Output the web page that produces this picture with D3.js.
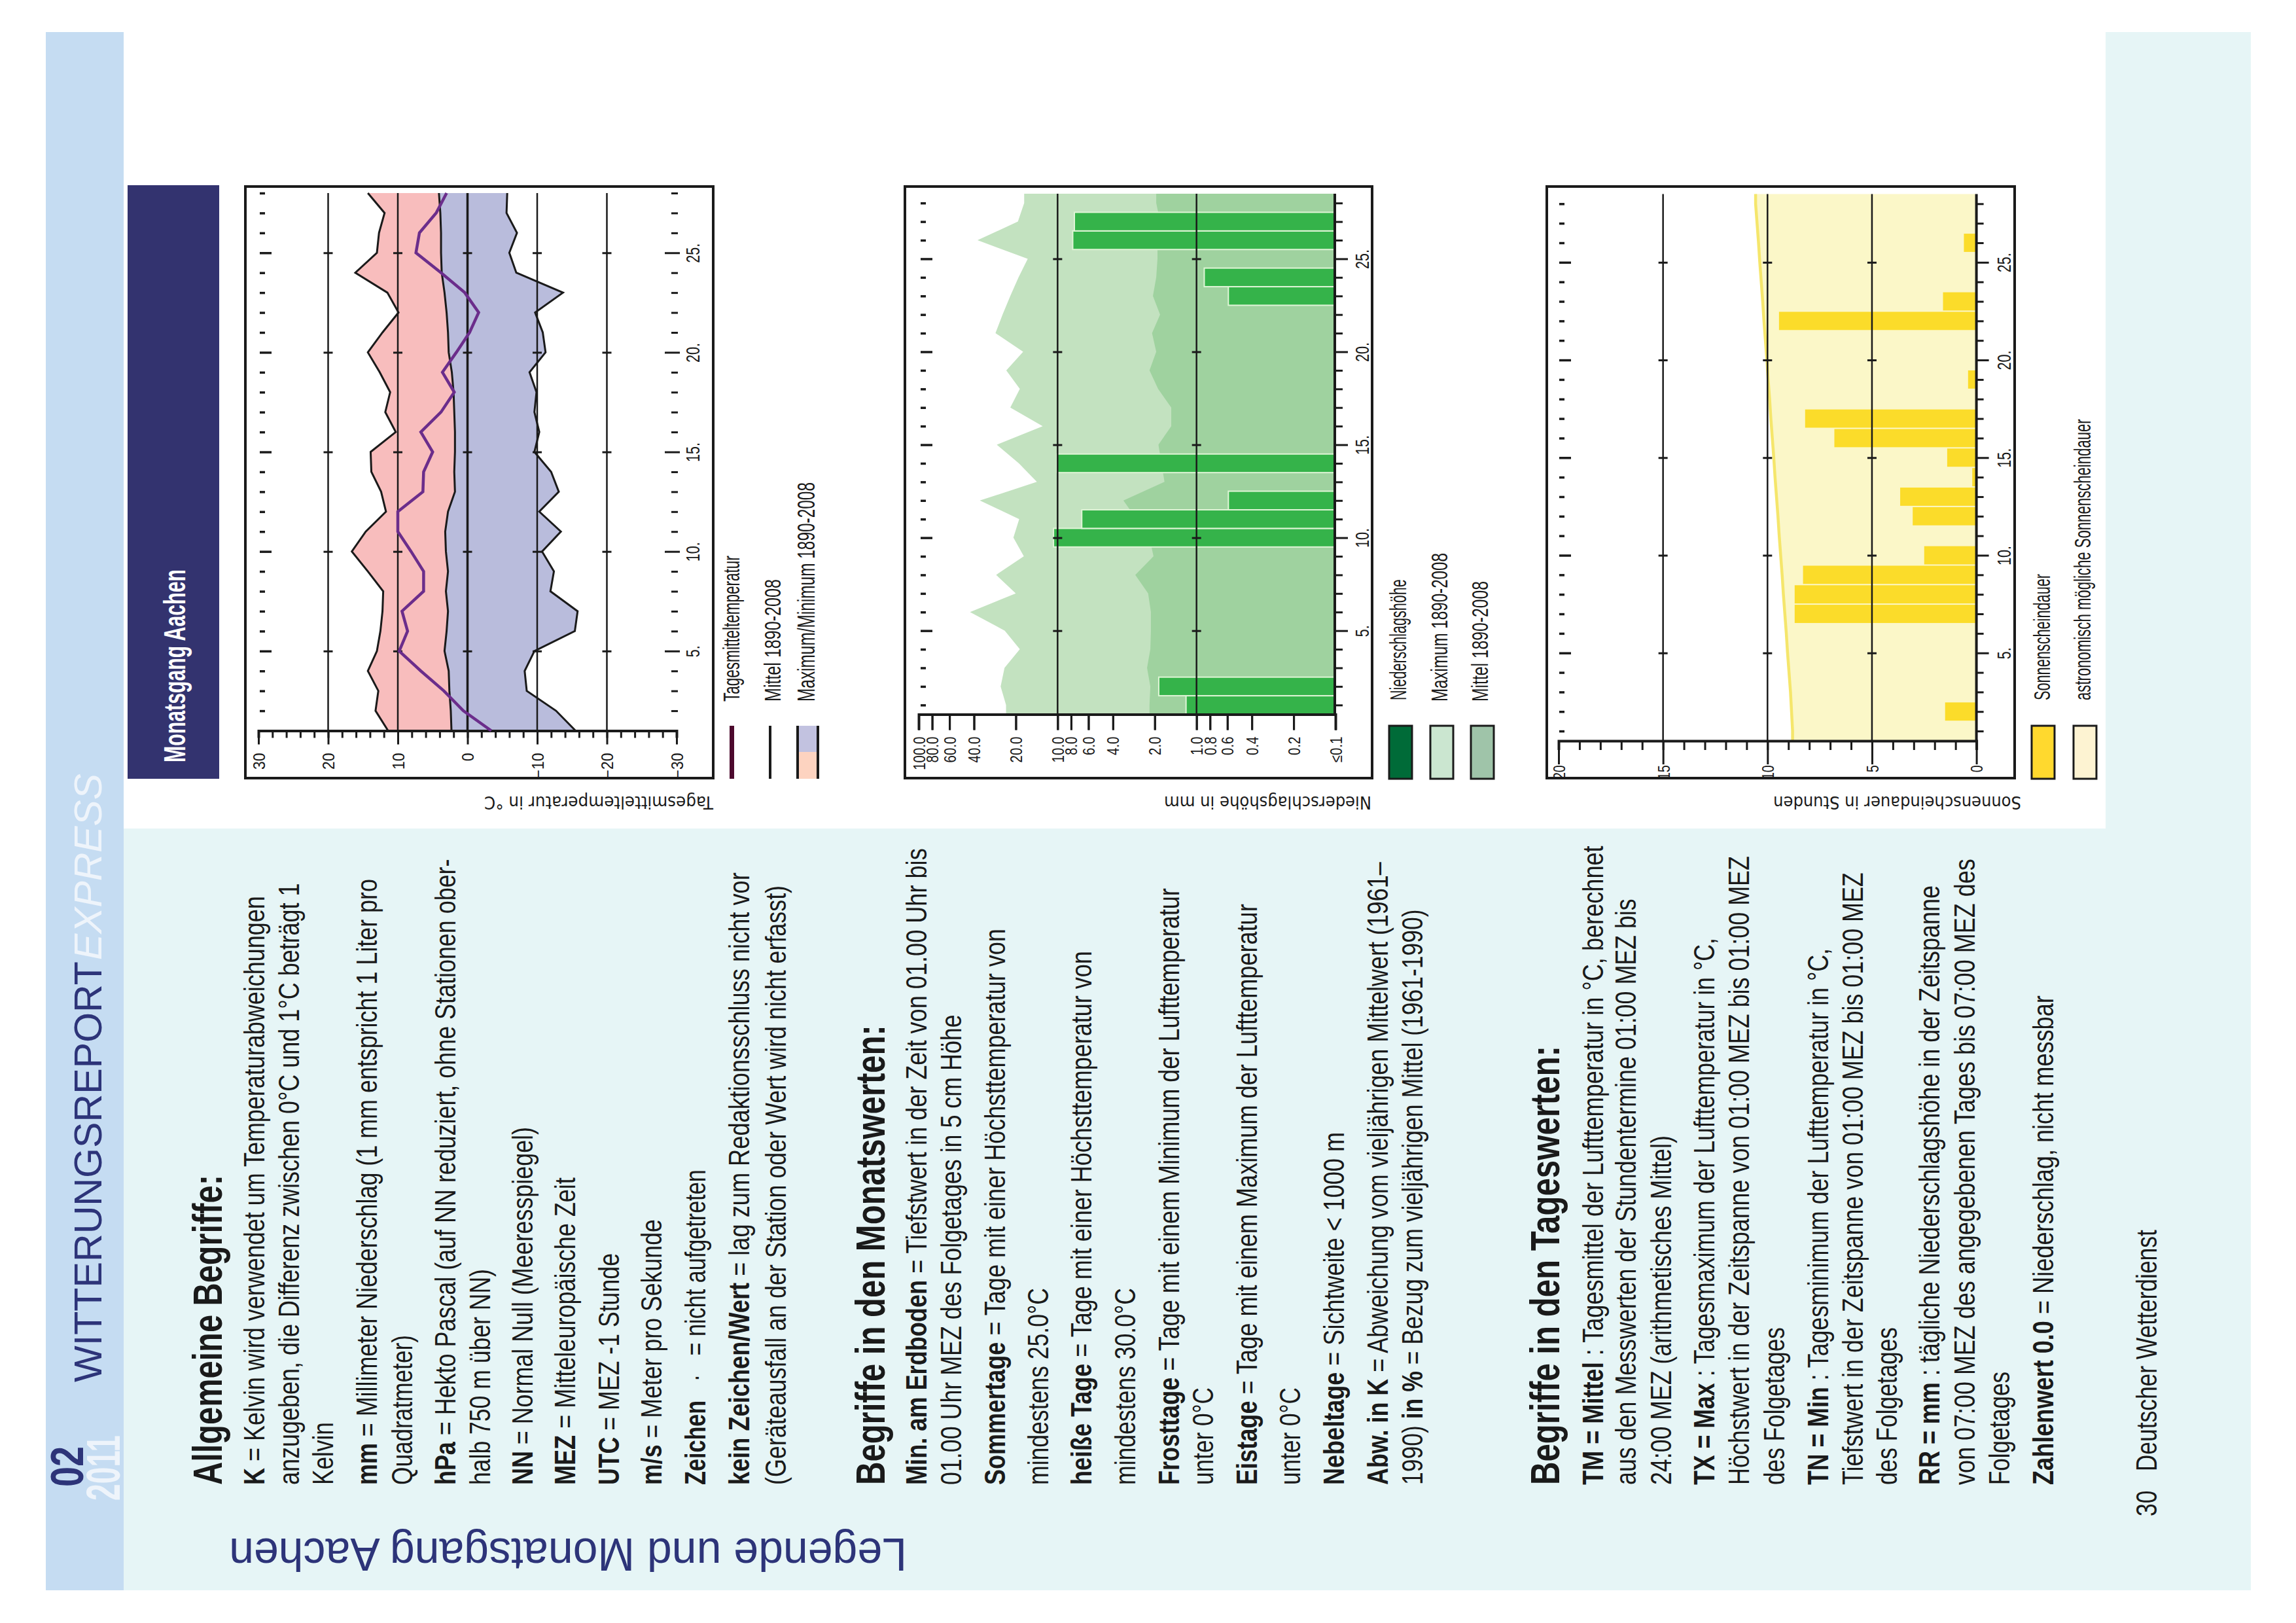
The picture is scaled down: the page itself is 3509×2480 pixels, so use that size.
<!DOCTYPE html>
<html>
<head>
<meta charset="utf-8">
<title>Legende und Monatsgang Aachen</title>
<script src="https://cdn.jsdelivr.net/npm/d3@7"></script>
<style>
  body { margin: 0; background: #fff; }
  text { font-family: "Liberation Sans", Arial, sans-serif; fill: #1a1a1a; }
</style>
</head>
<body>
<svg id="page" width="3509" height="2480" viewBox="0 0 3509 2480"></svg>
<script>
// Monthly values, one entry per day of February
var days = d3.range(1, 29);
var majorDays = [5, 10, 15, 20, 25];

// Temperature in deg C
var tempMax = [11.4, 13.2, 12.8, 14.3, 13.0, 12.5, 12.2, 12.1, 14.3, 16.6, 14.6, 11.7, 12.4, 13.8, 13.9, 10.3, 11.8, 11.1, 12.6, 14.3, 12.2, 9.9, 11.5, 16.1, 13.0, 12.7, 11.9, 14.3];
var tempMean = [2.3, 2.4, 2.6, 2.7, 3.3, 3.0, 2.8, 3.1, 2.8, 3.1, 3.2, 2.8, 1.8, 1.9, 1.8, 1.8, 1.9, 2.0, 2.25, 2.7, 2.8, 3.0, 3.3, 3.7, 3.8, 3.8, 3.9, 4.1];
var tempMin = [-15.5, -12.7, -8.5, -8.2, -9.6, -15.4, -15.8, -11.9, -12.4, -10.7, -13.4, -10.3, -13.1, -12.0, -9.6, -10.3, -9.6, -9.9, -8.9, -11.2, -10.8, -9.7, -13.7, -7.0, -6.0, -7.1, -5.6, -5.7];
var tempDaily = [-3.4, 0.6, 3.4, 6.7, 9.8, 8.6, 9.4, 6.3, 6.3, 8.1, 10.0, 10.0, 6.4, 6.3, 5.0, 6.7, 3.8, 1.9, 3.6, 1.6, -0.3, -1.6, 0.4, 3.8, 7.4, 6.9, 4.5, 3.0];
var tempTicks = [30, 20, 10, 0, -10, -20, -30];
var tempMinorTicks = d3.range(-30, 31, 2);

// Precipitation in mm
var rainMax = [23.5, 25.7, 24.1, 18.7, 24.0, 42.7, 20.0, 27.7, 17.5, 20.8, 18.9, 36.3, 14.1, 19.0, 27.4, 12.8, 21.9, 18.7, 23.4, 17.7, 28.0, 24.9, 21.9, 19.1, 16.4, 37.7, 19.3, 17.4];
var rainMean = [2.18, 2.15, 2.27, 2.15, 2.13, 2.13, 2.23, 2.76, 2.04, 2.18, 2.70, 3.36, 1.70, 1.79, 1.88, 1.52, 1.52, 1.89, 2.18, 1.95, 2.09, 1.83, 2.06, 1.95, 1.91, 1.91, 1.83, 1.95];
var rainDaily = [1.19, 1.87, 0, 0, 0, 0, 0, 0, 0, 10.7, 6.7, 0.59, 0, 10.1, 0, 0, 0, 0, 0, 0, 0, 0, 0.59, 0.88, 0, 7.78, 7.57, 0];
var rainTicks = [100, 80, 60, 40, 20, 10, 8, 6, 4, 2, 1, 0.8, 0.6, 0.4, 0.2, 0.1];
var rainTickLabels = ["100.0", "80.0", "60.0", "40.0", "20.0", "10.0", "8.0", "6.0", "4.0", "2.0", "1.0", "0.8", "0.6", "0.4", "0.2", "≤0.1"];
var rainGrid = [10, 1];

// Sunshine in hours
var sunPossible = [8.8, 8.85, 8.9, 8.97, 9.04, 9.1, 9.17, 9.24, 9.3, 9.37, 9.44, 9.5, 9.57, 9.64, 9.7, 9.77, 9.84, 9.9, 9.97, 10.03, 10.1, 10.17, 10.23, 10.3, 10.37, 10.43, 10.5, 10.57];
var sunDaily = [0, 1.5, 0, 0, 0, 0, 8.7, 8.7, 8.3, 2.5, 0, 3.05, 3.65, 0.2, 1.4, 6.8, 8.2, 0, 0.4, 0, 0, 9.45, 1.6, 0, 0, 0.6, 0, 0];
var sunTicks = [20, 15, 10, 5, 0];
var sunMinorTicks = d3.range(0, 21);
var sunGrid = [15, 10, 5];

// Page text: baseline x, end y, string. *...* is bold
var bodyLines = [
  [404, 1369, "*K* = Kelvin wird verwendet um Temperaturabweichungen"],
  [457, 1349, "anzugeben, die Differenz zwischen 0°C und 1°C beträgt 1"],
  [509, 2173, "Kelvin"],
  [576, 1343, "*mm* = Millimeter Niederschlag (1 mm entspricht 1 Liter pro"],
  [630, 2040, "Quadratmeter)"],
  [696, 1312, "*hPa* = Hekto Pascal (auf NN reduziert, ohne Stationen ober-"],
  [749, 1939, "halb 750 m über NN)"],
  [814, 1722, "*NN* = Normal Null (Meeresspiegel)"],
  [879, 1799, "*MEZ* = Mitteleuropäische Zeit"],
  [946, 1915, "*UTC* = MEZ -1 Stunde"],
  [1011, 1863, "*m/s* = Meter pro Sekunde"],
  [1078, 1787, "*Zeichen*   ·   = nicht aufgetreten"],
  [1145, 1333, "*kein Zeichen/Wert* = lag zum Redaktionsschluss nicht vor"],
  [1201, 1353, "(Geräteausfall an der Station oder Wert wird nicht erfasst)"],
  [1416, 1296, "*Min. am Erdboden* = Tiefstwert in der Zeit von 01.00 Uhr bis"],
  [1469, 1550, "01.00 Uhr MEZ des Folgetages in 5 cm Höhe"],
  [1536, 1419, "*Sommertage* = Tage mit einer Höchsttemperatur von"],
  [1602, 1968, "mindestens 25.0°C"],
  [1668, 1453, "*heiße Tage* = Tage mit einer Höchsttemperatur von"],
  [1735, 1968, "mindestens 30.0°C"],
  [1802, 1357, "*Frosttage* = Tage mit einem Minimum der Lufttemperatur"],
  [1854, 2120, "unter 0°C"],
  [1921, 1381, "*Eistage* = Tage mit einem Maximum der Lufttemperatur"],
  [1987, 2120, "unter 0°C"],
  [2054, 1730, "*Nebeltage* = Sichtweite < 1000 m"],
  [2121, 1317, "*Abw. in K* = Abweichung vom vieljährigen Mittelwert (1961–"],
  [2174, 1389, "1990) *in %* = Bezug zum vieljährigen Mittel (1961-1990)"],
  [2450, 1292, "*TM = Mittel* : Tagesmittel der Lufttemperatur in °C, berechnet"],
  [2500, 1373, "aus den Messwerten der Stundentermine 01:00 MEZ bis"],
  [2554, 1735, "24:00 MEZ (arithmetisches Mittel)"],
  [2620, 1433, "*TX = Max* : Tagesmaximum der Lufttemperatur in °C,"],
  [2673, 1308, "Höchstwert in der Zeitspanne von 01:00 MEZ bis 01:00 MEZ"],
  [2727, 2028, "des Folgetages"],
  [2794, 1449, "*TN = Min* : Tagesminimum der Lufttemperatur in °C,"],
  [2847, 1333, "Tiefstwert in der Zeitspanne von 01:00 MEZ bis 01:00 MEZ"],
  [2899, 2028, "des Folgetages"],
  [2964, 1353, "*RR = mm* : tägliche Niederschlagshöhe in der Zeitspanne"],
  [3018, 1312, "von 07:00 MEZ des angegebenen Tages bis 07:00 MEZ des"],
  [3071, 2096, "Folgetages"],
  [3138, 1521, "*Zahlenwert 0.0* = Niederschlag, nicht messbar"]
];
var headLines = [
  [339, 1795, "*Allgemeine Begriffe:*"],
  [1352, 1566, "*Begriffe in den Monatswerten:*"],
  [2383, 1598, "*Begriffe in den Tageswerten:*"]
];

var svg = d3.select("#page");
var navy = "#2d3479";

// Writes a line of text and squeezes it to the width it has in the print
function putText(parent, str, x, y, angle, length, size, color, family) {
  var t = parent.append("text").attr("font-size", size);
  if (color) {
    t.style("fill", color);
  }
  if (family) {
    t.style("font-family", family);
  }
  str.split("*").forEach(function (part, i) {
    if (part !== "") {
      t.append("tspan")
        .attr("font-weight", i % 2 ? "bold" : "normal")
        .attr("xml:space", "preserve")
        .text(part);
    }
  });
  var k = length / t.node().getComputedTextLength();
  t.attr("transform", "translate(" + x + "," + y + ") rotate(" + angle + ") scale(" + k + ",1)");
  return t;
}

// Backgrounds
svg.append("rect").attr("x", 189).attr("y", 1266).attr("width", 3251).attr("height", 1164).attr("fill", "#e6f5f6");
svg.append("rect").attr("x", 3218).attr("y", 49).attr("width", 222).attr("height", 2381).attr("fill", "#e6f5f6");
svg.append("rect").attr("x", 70).attr("y", 49).attr("width", 119).attr("height", 2381).attr("fill", "#c5dcf2");
svg.append("rect").attr("x", 195).attr("y", 283).attr("width", 140).attr("height", 907).attr("fill", "#33336f");

// Page header
putText(svg, "*02*", 127, 2272, -90, 62, 70, navy);
putText(svg, "*2011*", 183, 2293, -90, 100, 72, "#eef4fb");
putText(svg, "WITTERUNGSREPORT", 155, 2112, -90, 643, 60, navy);
putText(svg, "EXPRESS", 155, 1467, -90, 285, 60, "#eef4fb").style("font-style", "italic");
putText(svg, "*Monatsgang Aachen*", 283, 1165, -90, 295, 46, "#fff");
putText(svg, "Legende und Monatsgang Aachen", 1386, 2351, 180, 1036, 70, navy);
putText(svg, "30   Deutscher Wetterdienst", 3296, 2317, -90, 438, 44);

headLines.forEach(function (d) {
  putText(svg, d[2], d[0], 2269, -90, 2269 - d[1], 63);
});
bodyLines.forEach(function (d) {
  putText(svg, d[2], d[0], 2269, -90, 2269 - d[1], 45);
});

// Shared axes of a panel
function drawAxes(p) {
  var g = svg.append("g").attr("class", "axes");

  // value axis
  var valueAxis = g.append("g")
    .attr("transform", "translate(0," + p.axisY + ")")
    .call(d3.axisBottom(p.x).tickValues(p.minorTicks).tickSize(p.minorLen).tickFormat(""));
  valueAxis.selectAll("line").attr("stroke", "#1a1a1a").attr("stroke-width", 3);
  valueAxis.select(".domain").attr("stroke", "#1a1a1a").attr("stroke-width", 4);

  var valueLabels = g.append("g")
    .attr("transform", "translate(0," + p.axisY + ")")
    .call(d3.axisBottom(p.x).tickValues(p.ticks).tickSize(p.majorLen).tickFormat(p.tickFormat));
  valueLabels.select(".domain").remove();
  valueLabels.selectAll("line").attr("stroke", "#1a1a1a").attr("stroke-width", 3);
  valueLabels.selectAll("text")
    .attr("x", 0).attr("y", 0).attr("dy", "0.36em")
    .attr("text-anchor", "end")
    .attr("font-size", p.labelSize)
    .attr("transform", "translate(0," + p.labelGap + ") rotate(-90) scale(" + p.labelScale + ",1)")
    .style("font-family", "'Liberation Sans'")
    .style("fill", "#1a1a1a");

  // gridlines with their small crosses
  p.grid.forEach(function (v) {
    g.append("line")
      .attr("x1", p.x(v)).attr("x2", p.x(v))
      .attr("y1", p.axisY).attr("y2", p.topY)
      .attr("stroke", "#1a1a1a")
      .attr("stroke-width", v === 0 ? 3.5 : 2.5);
    var cross = g.append("g")
      .attr("transform", "translate(" + p.x(v) + ",0)")
      .call(d3.axisRight(p.y).tickValues(majorDays).tickSize(7).tickFormat(""));
    cross.select(".domain").remove();
    cross.selectAll("line").attr("x1", -7).attr("stroke", "#1a1a1a").attr("stroke-width", 3);
  });

  // row of dashes on top of the panel
  var top = g.append("g")
    .attr("transform", "translate(" + p.dashX + ",0)")
    .call(d3.axisRight(p.y).tickValues(days).tickSize(8).tickFormat(""));
  top.select(".domain").remove();
  top.selectAll("line")
    .attr("x2", function (d) { return majorDays.indexOf(d) >= 0 ? 18 : 8; })
    .attr("stroke", "#1a1a1a").attr("stroke-width", 3.5);

  // day axis
  var dayAxis = g.append("g")
    .attr("transform", "translate(" + p.dayAxisX + ",0)")
    .call(d3.axisRight(p.y).tickValues(days).tickSize(p.dayMinor).tickFormat(function (d) {
      return majorDays.indexOf(d) >= 0 ? d + "." : "";
    }));
  if (p.dayDomain) {
    dayAxis.select(".domain")
      .attr("stroke", "#1a1a1a").attr("stroke-width", 4)
      .attr("d", "M0," + p.axisY + "V" + p.topY);
  } else {
    dayAxis.select(".domain").remove();
  }
  dayAxis.selectAll("line")
    .attr("x1", function (d) { return majorDays.indexOf(d) >= 0 ? p.dayMajorFrom : 0; })
    .attr("x2", function (d) { return majorDays.indexOf(d) >= 0 ? p.dayMajor : p.dayMinor; })
    .attr("stroke", "#1a1a1a").attr("stroke-width", 3);
  dayAxis.selectAll("text")
    .attr("x", 0).attr("y", 0).attr("dy", 0)
    .attr("text-anchor", "middle")
    .attr("font-size", 30)
    .attr("transform", "translate(" + p.dayLabelGap + ",0) rotate(-90) scale(0.72,1)")
    .style("font-family", "'Liberation Sans'")
    .style("fill", "#1a1a1a");
}

function frame(x0, x1) {
  svg.append("rect")
    .attr("x", x0).attr("y", 285).attr("width", x1 - x0).attr("height", 904)
    .attr("fill", "none").attr("stroke", "#1a1a1a").attr("stroke-width", 4);
}

// Rows with a half day added at both ends, the fills run to the panel edges
function padded(values) {
  var rows = days.map(function (d, i) { return { day: d, v: values[i] }; });
  rows.unshift({ day: 0.5, v: values[0] });
  rows.push({ day: 28.5, v: values[27] });
  return rows;
}

// Temperature
var tx = d3.scaleLinear().domain([30, -30]).range([395, 1034]);
var ty = d3.scaleLinear().domain([1, 28]).range([1116.5, 295]);
var tempRows = days.map(function (d, i) {
  return { day: d, max: tempMax[i], mean: tempMean[i], min: tempMin[i], daily: tempDaily[i] };
});

function tempBand(hi, lo) {
  return d3.area()
    .y(function (d) { return ty(d.day); })
    .x0(function (d) { return tx(d[hi]); })
    .x1(function (d) { return tx(d[lo]); });
}
function tempLine(key) {
  return d3.line()
    .x(function (d) { return tx(d[key]); })
    .y(function (d) { return ty(d.day); });
}
svg.append("path").datum(tempRows).attr("d", tempBand("max", "mean")).attr("fill", "#f8bdbd");
svg.append("path").datum(tempRows).attr("d", tempBand("mean", "min")).attr("fill", "#b9bcdc");

frame(375, 1090);
drawAxes({
  x: tx, y: ty, axisY: 1116.5, topY: 295,
  ticks: tempTicks, minorTicks: tempMinorTicks, minorLen: 11, majorLen: 21, labelGap: 34, labelSize: 25, labelScale: 0.92,
  tickFormat: d3.format("d"), grid: [20, 10, 0, -10, -20],
  dashX: 397, dayAxisX: 1026, dayMinor: 10, dayMajorFrom: -10, dayMajor: 13, dayLabelGap: 43, dayDomain: false
});
["max", "mean", "min"].forEach(function (k) {
  svg.append("path").datum(tempRows).attr("d", tempLine(k))
    .attr("fill", "none").attr("stroke", "#1a1a1a").attr("stroke-width", 3);
});
svg.append("path").datum(tempRows).attr("d", tempLine("daily"))
  .attr("fill", "none").attr("stroke", "#6b2d8b").attr("stroke-width", 4.5);

putText(svg, "Tagesmitteltemperatur in °C", 1090, 1217, 180, 350, 26, null, "'DejaVu Sans'");

// Precipitation
var rx = d3.scaleLog().domain([100, 0.1]).range([1404, 2041]);
var ry = d3.scaleLinear().domain([0.5, 28.5]).range([1091.5, 296]);

function rainArea(values, fill) {
  var area = d3.area()
    .y(function (d) { return ry(d.day); })
    .x0(function (d) { return rx(d.v); })
    .x1(rx(0.1));
  svg.append("path").datum(padded(values)).attr("d", area).attr("fill", fill);
}
rainArea(rainMax, "#c3e2c0");
rainArea(rainMean, "#9fd29f");

var rainBand = ry(1) - ry(2);
svg.append("g").selectAll("rect")
  .data(days.filter(function (d, i) { return rainDaily[i] > 0; }))
  .enter()
  .append("rect")
  .attr("x", function (d) { return rx(rainDaily[d - 1]); })
  .attr("y", function (d) { return ry(d) - rainBand / 2; })
  .attr("width", function (d) { return rx(0.1) - rx(rainDaily[d - 1]); })
  .attr("height", rainBand)
  .attr("fill", "#35b34a")
  .attr("stroke", "#dff5d6")
  .attr("stroke-width", 2);

frame(1383, 2097);
drawAxes({
  x: rx, y: ry, axisY: 1091.5, topY: 296,
  ticks: rainTicks, minorTicks: rainTicks, minorLen: 24, majorLen: 24, labelGap: 34, labelSize: 25, labelScale: 0.82,
  tickFormat: function (d, i) { return rainTickLabels[i]; }, grid: rainGrid,
  dashX: 1407, dayAxisX: 2040, dayMinor: 12, dayMajorFrom: 0, dayMajor: 20, dayLabelGap: 52, dayDomain: true
});
putText(svg, "Niederschlagshöhe in mm", 2096, 1217, 180, 317, 26, null, "'DejaVu Sans'");

// Sunshine
var sx = d3.scaleLinear().domain([20, 0]).range([2382, 3020.6]);
var sy = d3.scaleLinear().domain([0.5, 28.5]).range([1132, 296.4]);

var sunArea = d3.area()
  .y(function (d) { return sy(d.day); })
  .x0(function (d) { return sx(d.v); })
  .x1(sx(0));
var sunEdge = d3.line()
  .x(function (d) { return sx(d.v); })
  .y(function (d) { return sy(d.day); });
svg.append("path").datum(padded(sunPossible)).attr("d", sunArea).attr("fill", "#fbf7c8");
svg.append("path").datum(padded(sunPossible)).attr("d", sunEdge)
  .attr("fill", "none").attr("stroke", "#f5e66b").attr("stroke-width", 4.5);

var sunBand = sy(1) - sy(2);
svg.append("g").selectAll("rect")
  .data(days.filter(function (d, i) { return sunDaily[i] > 0; }))
  .enter()
  .append("rect")
  .attr("x", function (d) { return sx(sunDaily[d - 1]); })
  .attr("y", function (d) { return sy(d) - sunBand / 2 + 1; })
  .attr("width", function (d) { return sx(0) - sx(sunDaily[d - 1]); })
  .attr("height", sunBand - 2)
  .attr("fill", "#fbdc2a");

frame(2364, 3079);
drawAxes({
  x: sx, y: sy, axisY: 1132, topY: 296.4,
  ticks: sunTicks, minorTicks: sunMinorTicks, minorLen: 14, majorLen: 36, labelGap: 37, labelSize: 26, labelScale: 0.77,
  tickFormat: d3.format("d"), grid: sunGrid,
  dashX: 2383, dayAxisX: 3020.6, dayMinor: 11, dayMajorFrom: 0, dayMajor: 19, dayLabelGap: 52, dayDomain: true
});
putText(svg, "Sonnenscheindauer in Stunden", 3089, 1217, 180, 379, 26, null, "'DejaVu Sans'");

// Legends
function swatch(x, w, fill, stroke, sw) {
  svg.append("rect")
    .attr("x", x).attr("y", 1109).attr("width", w).attr("height", 81)
    .attr("fill", fill).attr("stroke", stroke || "none").attr("stroke-width", sw || 0);
}
swatch(1115, 7, "#4d0a2e");
swatch(1175, 4, "#1a1a1a");
swatch(1217, 35, "#fdd3c0");
svg.append("rect").attr("x", 1217).attr("y", 1109).attr("width", 35).attr("height", 40).attr("fill", "#c2c2e0");
swatch(1217, 4, "#1a1a1a");
swatch(1248, 4, "#1a1a1a");
putText(svg, "Tagesmitteltemperatur", 1130, 1072, -90, 223, 36);
putText(svg, "Mittel 1890-2008", 1193, 1072, -90, 187, 36);
putText(svg, "Maximum/Minimum 1890-2008", 1245, 1072, -90, 335, 36);

swatch(2123, 35, "#006b38", "#1a1a1a", 3);
swatch(2186, 35, "#cbe6d0", "#1a1a1a", 3);
swatch(2248, 35, "#9fc4a9", "#1a1a1a", 3);
putText(svg, "Niederschlagshöhe", 2149, 1070, -90, 185, 36);
putText(svg, "Maximum 1890-2008", 2212, 1072, -90, 227, 36);
putText(svg, "Mittel 1890-2008", 2274, 1072, -90, 184, 36);

swatch(3105, 35, "#ffd92e", "#1a1a1a", 3);
swatch(3169, 35, "#fdf3d2", "#1a1a1a", 3);
putText(svg, "Sonnenscheindauer", 3133, 1070, -90, 193, 36);
putText(svg, "astronomisch mögliche Sonnenscheindauer", 3195, 1070, -90, 430, 36);
</script>
</body>
</html>
